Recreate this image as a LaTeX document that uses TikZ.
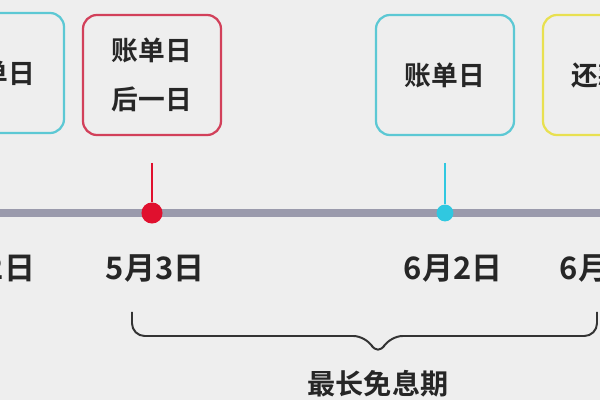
\documentclass[tikz,border=0pt]{standalone}
\usepackage{fontspec}
\setmainfont{Noto Sans CJK SC}[BoldFont={Noto Sans CJK SC Bold}]
\tikzset{
  datebox/.style={draw, line width=1.6pt, rounded corners=10pt, minimum width=3.45cm, minimum height=3cm, align=center, font=\fontsize{19}{35}\selectfont\bfseries, text=black!85},
  datelabel/.style={font=\fontsize{22}{24}\selectfont\bfseries, text=black!85}
}
\definecolor{bgc}{HTML}{EEEEEE}
\definecolor{boxcyan}{HTML}{5CC8D4}
\definecolor{boxred}{HTML}{D2405A}
\definecolor{boxyellow}{HTML}{E8E050}
\definecolor{dotred}{HTML}{E0102E}
\definecolor{dotcyan}{HTML}{30C8E0}
\definecolor{linegray}{HTML}{9A9AAC}
\begin{document}
\begin{tikzpicture}[x=0.025cm, y=-0.025cm]
\useasboundingbox (0,0) rectangle (600,400);
\clip (0,0) rectangle (600,400);
\fill[bgc] (0,0) rectangle (600,400);
% boxes
\node[datebox, draw=boxcyan] (bill0) at (-5,73) {账单日};
\node[datebox, draw=boxred] (next) at (152,75) {账单日\\后一日};
\node[datebox, draw=boxcyan] (bill1) at (445,75) {账单日};
\node[datebox, draw=boxyellow] (repay) at (612,75) {还款日};
% timeline
\draw[linegray, line width=5pt] (0,213) -- (600,213);
\coordinate (stemA) at (152,163);
\coordinate (stemB) at (445,163);
\node[circle, fill=dotred, inner sep=0pt, minimum size=15pt] (dotA) at (152,213) {};
\node[circle, fill=dotcyan, inner sep=0pt, minimum size=12pt] (dotB) at (445,213) {};
\draw[dotred, line width=1.4pt] (stemA) -- (dotA);
\draw[dotcyan, line width=1.4pt] (stemB) -- (dotB);
% dates
\node[datelabel, anchor=east] (d0) at (40,268) {5月2日};
\node[datelabel] (d1) at (155,268) {5月3日};
\node[datelabel] (d2) at (453,268) {6月2日};
\node[datelabel, anchor=west] (d3) at (555,268) {6月2日};
% brace
\draw[black!80, line width=1.4pt, rounded corners=9pt] (132,312) -- (132,336) -- (366,336) -- (378,356) -- (390,336) -- (597,336) -- (597,312);
\node[font=\fontsize{20}{24}\selectfont\bfseries, text=black!85] (free) at (378,384) {最长免息期};
\end{tikzpicture}
\end{document}
